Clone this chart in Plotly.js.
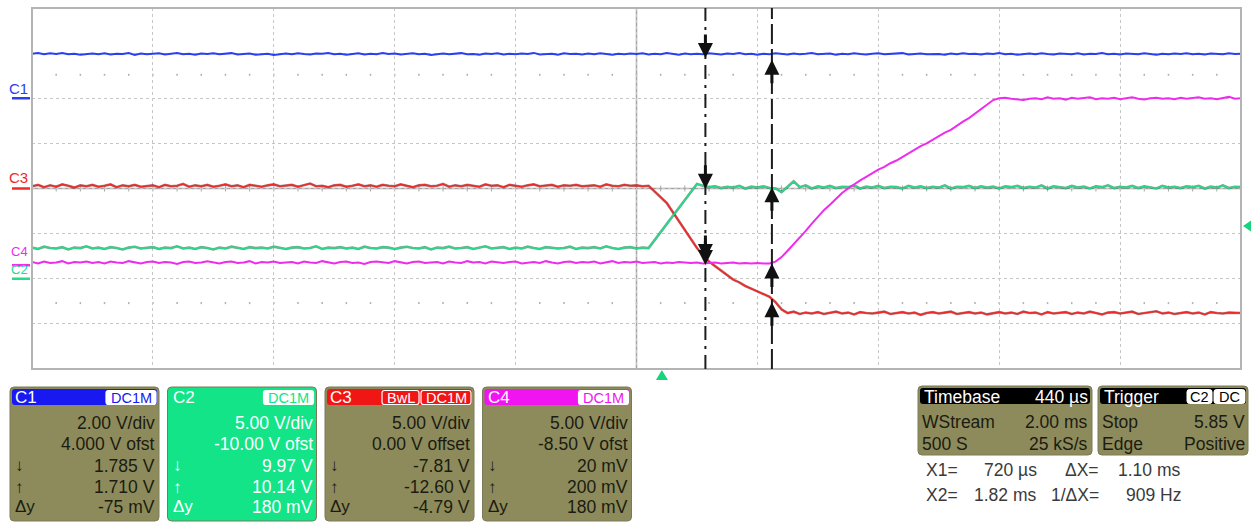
<!DOCTYPE html>
<html><head><meta charset="utf-8">
<script src="https://cdn.plot.ly/plotly-3.0.1.min.js"></script>
<style>html,body{margin:0;padding:0;background:#fff;}#chart{width:1252px;height:523px;}</style>
</head><body><div id="chart"></div>
<script>
// ================= DATA =================
// sample timing (ms): first sample and sample interval
const sampleStart = -10.42;
const sampleStep = 0.1;
// C1 (V)
const c1 = [
1.97,2.00,1.95,1.99,1.96,2.01,1.95,1.97,1.93,1.96,
1.98,1.95,1.99,1.94,1.97,1.96,2.00,1.92,1.98,1.95,
1.97,1.99,1.94,1.96,2.01,1.95,1.97,1.93,1.98,1.96,
1.99,1.95,1.97,2.00,1.94,1.96,1.98,1.93,1.95,1.97,
1.92,1.96,1.98,1.95,1.99,1.96,1.94,1.98,1.97,2.00,
1.95,1.97,1.93,1.96,1.99,1.94,1.97,1.95,2.00,1.96,
1.98,1.94,1.96,1.99,1.95,1.97,1.92,1.96,1.98,1.95,
1.97,2.00,1.95,1.96,1.93,1.98,1.96,1.99,1.94,1.97,
1.95,1.98,1.96,2.01,1.94,1.96,1.97,1.93,1.99,1.96,
1.97,1.94,1.98,1.95,1.99,1.96,1.93,1.97,1.95,1.98,
1.96,1.99,1.94,1.97,1.95,2.00,1.96,1.93,1.98,1.95,
1.97,1.95,1.99,1.96,1.94,1.98,1.96,2.00,1.95,1.97,
1.93,1.97,1.95,1.99,1.96,1.94,1.98,1.95,1.97,2.00,
1.95,1.96,1.98,1.93,1.97,1.95,1.99,1.96,1.94,1.97,
1.99,1.95,1.97,1.96,2.00,1.94,1.96,1.98,1.95,1.97,
1.96,1.93,1.98,1.95,1.99,1.96,1.97,1.94,1.98,1.96,
2.00,1.95,1.97,1.93,1.96,1.98,1.95,1.99,1.96,1.94,
1.98,1.96,1.95,1.99,1.94,1.97,1.96,2.00,1.95,1.97,
1.94,1.98,1.96,1.95,1.99,1.96,1.93,1.97,1.95,1.98,
1.96,1.99,1.95,1.97,1.94,1.98,1.96,1.95,1.99,1.96,
1.97];
// C2 (V)
const c2 = [
3.45,3.30,3.55,3.40,3.35,3.50,3.25,3.45,3.40,3.60,
3.35,3.45,3.30,3.50,3.40,3.25,3.45,3.55,3.35,3.40,
3.50,3.30,3.45,3.40,3.60,3.35,3.45,3.30,3.50,3.40,
3.25,3.45,3.35,3.55,3.40,3.30,3.50,3.40,3.45,3.35,
3.55,3.40,3.30,3.45,3.50,3.35,3.40,3.60,3.30,3.45,
3.40,3.50,3.35,3.45,3.30,3.55,3.40,3.35,3.50,3.45,
3.30,3.45,3.55,3.40,3.35,3.50,3.25,3.45,3.40,3.55,
3.35,3.40,3.50,3.30,3.45,3.60,3.35,3.40,3.50,3.30,
3.45,3.35,3.55,3.40,3.30,3.50,3.45,3.35,3.40,3.55,
3.30,3.45,3.40,3.50,3.35,3.60,3.40,3.30,3.45,3.50,
3.35,3.45,3.40,4.30,5.20,6.10,7.00,7.90,8.80,9.70,
10.50,10.30,10.15,10.25,10.05,10.20,10.10,10.30,10.00,10.20,
10.10,10.25,10.05,10.00,9.60,10.20,10.80,10.15,10.35,10.00,
10.25,10.10,10.30,10.05,10.20,10.15,10.35,10.00,10.20,10.10,
10.30,10.05,10.20,10.15,10.00,10.30,10.10,10.25,10.05,10.20,
10.10,10.35,10.00,10.20,10.15,10.30,10.05,10.25,10.10,10.20,
10.00,10.25,10.15,10.30,10.05,10.20,10.10,10.35,10.00,10.25,
10.15,10.05,10.30,10.10,10.20,10.00,10.25,10.15,10.35,10.05,
10.20,10.10,10.30,10.05,10.25,10.15,10.00,10.30,10.10,10.20,
10.05,10.25,10.15,10.30,10.00,10.20,10.10,10.35,10.05,10.20,
10.15];
// C3 (V)
const c3 = [
0.25,0.40,0.15,0.35,0.20,0.45,0.30,0.10,0.35,0.25,
0.40,0.20,0.30,0.45,0.15,0.35,0.25,0.40,0.20,0.30,
0.35,0.15,0.40,0.25,0.30,0.50,0.20,0.35,0.25,0.40,
0.20,0.30,0.45,0.25,0.35,0.15,0.40,0.30,0.20,0.35,
0.45,0.25,0.30,0.40,0.20,0.35,0.55,0.25,0.30,0.15,
0.35,0.40,0.20,0.30,0.45,0.25,0.35,0.20,0.40,0.30,
0.25,0.45,0.30,0.15,0.35,0.40,0.25,0.30,0.50,0.20,
0.35,0.25,0.40,0.30,0.20,0.45,0.30,0.35,0.15,0.40,
0.30,0.20,0.35,0.45,0.25,0.30,0.40,0.20,0.35,0.30,
0.40,0.25,0.30,0.35,0.20,0.45,0.30,0.25,0.40,0.30,
0.35,0.25,0.30,-0.30,-0.90,-1.60,-2.60,-3.60,-4.60,-5.60,
-6.60,-7.40,-8.10,-8.60,-9.10,-9.60,-10.10,-10.40,-10.80,-11.10,
-11.40,-11.70,-12.00,-12.60,-13.40,-13.80,-13.65,-13.90,-13.75,-13.85,
-13.70,-13.90,-13.80,-13.65,-13.85,-13.75,-13.95,-13.70,-13.80,-13.85,
-13.75,-13.65,-13.90,-13.80,-13.70,-13.85,-13.75,-14.00,-13.80,-13.70,
-13.85,-13.75,-13.65,-13.90,-13.80,-13.70,-13.85,-13.75,-13.95,-13.80,
-13.70,-13.85,-13.75,-13.90,-13.65,-13.80,-13.75,-13.95,-13.70,-13.85,
-13.80,-13.70,-13.90,-13.75,-13.85,-13.65,-13.80,-13.95,-13.75,-13.70,
-13.85,-13.75,-13.65,-13.90,-13.80,-13.70,-13.60,-13.85,-13.75,-13.90,
-13.80,-13.70,-13.85,-13.75,-13.95,-13.70,-13.80,-13.85,-13.75,-13.80,
-13.80];
// C4 (V)
const c4 = [
0.35,0.20,0.40,0.25,0.30,0.45,0.20,0.35,0.30,0.40,
0.25,0.35,0.20,0.40,0.30,0.25,0.45,0.30,0.20,0.35,
0.40,0.25,0.35,0.30,0.15,0.35,0.40,0.25,0.30,0.45,
0.30,0.20,0.35,0.40,0.25,0.30,0.45,0.20,0.35,0.30,
0.40,0.25,0.30,0.35,0.20,0.40,0.30,0.25,0.45,0.30,
0.20,0.35,0.40,0.25,0.30,0.15,0.35,0.40,0.30,0.25,
0.45,0.30,0.20,0.35,0.40,0.25,0.30,0.35,0.20,0.40,
0.30,0.25,0.45,0.30,0.35,0.20,0.40,0.30,0.25,0.35,
0.40,0.20,0.30,0.35,0.25,0.45,0.30,0.20,0.35,0.40,
0.25,0.35,0.30,0.40,0.20,0.30,0.45,0.25,0.35,0.30,
0.40,0.25,0.30,0.35,0.20,0.30,0.25,0.35,0.30,0.25,
0.30,0.20,0.25,0.30,0.20,0.25,0.30,0.20,0.25,0.20,
0.25,0.20,0.20,0.40,0.90,1.60,2.30,3.00,3.80,4.60,
5.40,6.10,6.70,7.40,8.00,8.50,9.00,9.40,9.80,10.20,
10.60,10.90,11.30,11.60,12.00,12.40,12.80,13.20,13.50,13.90,
14.30,14.70,15.00,15.50,15.90,16.30,16.80,17.30,17.80,18.30,
18.50,18.55,18.45,18.40,18.30,18.45,18.50,18.40,18.60,18.45,
18.50,18.35,18.55,18.45,18.50,18.60,18.40,18.50,18.45,18.55,
18.40,18.50,18.60,18.45,18.35,18.50,18.55,18.45,18.50,18.40,
18.55,18.45,18.50,18.60,18.45,18.50,18.40,18.55,18.65,18.45,
18.50];

// time window (ms) and cursors
const timeRange = [-10.42, 9.58];
const timePerDiv = 2.0;
const cursorX = [0.72, 1.82];
// cursor readouts per channel at [X1, X2] (V)
const c1Cur = [1.785, 1.710];
const c2Cur = [9.97, 10.14];
const c3Cur = [-7.81, -12.60];
const c4Cur = [0.020, 0.200];
// channel vertical settings
const chVdiv = [2.00, 5.00, 5.00, 5.00];
const chOffset = [4.000, -10.00, 0.00, -8.50];
// trigger
const trigTime = 0;
const trigLevel = 5.85;

// panel texts
const chNames = ['C1','C2','C3','C4'];
const chBadges = [['DC1M'],['DC1M'],['BwL','DC1M'],['DC1M']];
const chLines = [
  ['2.00 V/div','4.000 V ofst','1.785 V','1.710 V','-75 mV'],
  ['5.00 V/div','-10.00 V ofst','9.97 V','10.14 V','180 mV'],
  ['5.00 V/div','0.00 V offset','-7.81 V','-12.60 V','-4.79 V'],
  ['5.00 V/div','-8.50 V ofst','20 mV','200 mV','180 mV']
];
const rowSymbols = ['↓','↑','Δy'];
const tbHeader = ['Timebase','440 µs'];
const tbRows = [['WStream','2.00 ms'],['500 S','25 kS/s']];
const trHeader = 'Trigger';
const trBadges = ['C2','DC'];
const trRows = [['Stop','5.85 V'],['Edge','Positive']];
const curText = [['X1=','720 µs','ΔX=','1.10 ms'],['X2=','1.82 ms','1/ΔX=','909 Hz']];

// ================= STYLE =================
const FONT = 'Liberation Sans, Arial, sans-serif';
const traceCol = ['#2a3ef2','#22dc88','#f02828','#ee2cee'];
const underCol = [null,'rgba(40,80,60,0.55)','rgba(110,30,30,0.55)',null];
const headCol = ['#1818f0','#12e487','#f01616','#f014f0'];
const OLIVE = '#8d8b5b';
const L=32, R=1241, T=8, B=369;
const px = x => (x-L)/(R-L);
const py = y => (B-y)/(B-T);

function rr(x0,y0,x1,y1,r,fill,lineCol,lw){
  const p = `M${x0+r},${-y0} L${x1-r},${-y0} Q${x1},${-y0} ${x1},${-(y0+r)} L${x1},${-(y1-r)} Q${x1},${-y1} ${x1-r},${-y1} L${x0+r},${-y1} Q${x0},${-y1} ${x0},${-(y1-r)} L${x0},${-(y0+r)} Q${x0},${-y0} ${x0+r},${-y0} Z`;
  return {type:'path',xref:'paper',yref:'paper',xsizemode:'pixel',ysizemode:'pixel',
    xanchor:px(0),yanchor:py(0),path:p,fillcolor:fill,
    line:{color:lineCol||fill,width:lw===undefined?0:lw},layer:'above'};
}
function txt(x,y,s,anchor,color,size,bold){
  return {xref:'paper',yref:'paper',x:px(x),y:py(y),text:bold?'<b>'+s+'</b>':s,showarrow:false,
    xanchor:anchor,yanchor:'middle',borderpad:0,font:{family:FONT,size:size||17,color:color}};
}

// ================= TRACES =================
const yaxes = ['y2','y3','y','y4'];
const series = [c1,c2,c3,c4];
const traces = [];
const order = [1,2,3,0];
order.forEach(i=>{
  if(underCol[i]){
    traces.push({type:'scatter',mode:'lines',x0:sampleStart,dx:sampleStep,y:series[i],yaxis:yaxes[i],
      line:{color:underCol[i],width:2.6},hoverinfo:'skip',showlegend:false});
  }
  traces.push({type:'scatter',mode:'lines',x0:sampleStart,dx:sampleStep,y:series[i],yaxis:yaxes[i],
    line:{color:traceCol[i],width:underCol[i]?1.6:2},hoverinfo:'skip',showlegend:false});
});

// ================= SHAPES / ANNOTATIONS =================
const shapes = [];
const ann = [];
// centre cross
const tCenter = timeRange[0] + 5*timePerDiv;
shapes.push({type:'line',xref:'x',yref:'paper',x0:tCenter,x1:tCenter,y0:0,y1:1,line:{color:'#a4a4a4',width:1.5},layer:'below'});
shapes.push({type:'line',xref:'paper',yref:'y',x0:0,x1:1,y0:0,y1:0,line:{color:'#a4a4a4',width:1.5},layer:'below'});
// tick marks (every 1/5 division)
for(let k=1;k<50;k++){
  const tx = timeRange[0] + k*timePerDiv/5;
  shapes.push({type:'line',xref:'x',yref:'y',ysizemode:'pixel',yanchor:0,x0:tx,x1:tx,y0:-3,y1:3,line:{color:'#a8a8a8',width:1},layer:'below'});
  [12.6,-12.7].forEach(v=>{
    shapes.push({type:'line',xref:'x',yref:'y',ysizemode:'pixel',yanchor:v,x0:tx,x1:tx,y0:-1,y1:1,line:{color:'#b0b0b0',width:1.5},layer:'below'});
  });
}
// frame
shapes.push({type:'rect',xref:'paper',yref:'paper',x0:0,x1:1,y0:0,y1:1,line:{color:'#b4b4b4',width:2},layer:'above'});
// cursors
shapes.push({type:'line',xref:'x',yref:'paper',x0:cursorX[0],x1:cursorX[0],y0:0,y1:1,line:{color:'#1c1c1c',width:2,dash:'14px,6px,3px,6px'}});
shapes.push({type:'line',xref:'x',yref:'paper',x0:cursorX[1],x1:cursorX[1],y0:0,y1:1,line:{color:'#1c1c1c',width:2,dash:'20px,5px'}});
// trigger markers
shapes.push({type:'path',xref:'x',yref:'paper',xsizemode:'pixel',ysizemode:'pixel',xanchor:trigTime,yanchor:0,
  path:'M0,-1 L-6,-11 L6,-11 Z',fillcolor:'#18d47c',line:{width:0}});
shapes.push({type:'path',xref:'paper',yref:'y3',xsizemode:'pixel',ysizemode:'pixel',xanchor:1,yanchor:trigLevel,
  path:'M2,0 L10,5.5 L10,-5.5 Z',fillcolor:'#18d47c',line:{width:0}});
// channel ground markers
const gShift = [10,9,11,14];
const gSize = [15,13,15,13];
[0,2,3,1].forEach(i=>{
  shapes.push({type:'line',xref:'paper',yref:yaxes[i],x0:px(12),x1:px(30),y0:0,y1:0,line:{color:traceCol[i],width:2.5}});
  ann.push({xref:'paper',yref:yaxes[i],x:px(29),y:0,yshift:gShift[i],xanchor:'right',yanchor:'middle',showarrow:false,
    text:chNames[i],borderpad:0,font:{family:FONT,size:gSize[i],color:traceCol[i]}});
});
// cursor arrows
const curVals = [c1Cur,c2Cur,c3Cur,c4Cur];
curVals.forEach((cv,i)=>{
  cv.forEach((v,j)=>{
    ann.push({xref:'x',yref:yaxes[i],x:cursorX[j],y:v,ax:0,ay:j===0?-25:25,text:'',showarrow:true,
      arrowhead:2,arrowsize:1.0,arrowwidth:3,arrowcolor:'#111',standoff:0});
  });
});

// channel info boxes
chNames.forEach((nm,i)=>{
  const x0 = 10 + i*157.5, x1 = x0+149;
  const bodyFill = i===1 ? headCol[1] : OLIVE;
  shapes.push(rr(x0,387,x1,521,4,bodyFill,'#7b7a58',1));
  shapes.push(rr(x0+2,389,x1-2,405,3,headCol[i]));
  ann.push(txt(x0+4,397.5,nm,'left','#ffffff',17));
  // badges
  let bx = x1-3;
  const bl = chBadges[i].slice().reverse();
  bl.forEach(b=>{
    const w = b==='DC1M'?50:37;
    const outline = (i===2);
    shapes.push(rr(bx-w,390.5,bx,404.5,2.5,outline?headCol[i]:'#ffffff','#ffffff',1.2));
    ann.push(txt(bx-w/2,397.5,b,'center',outline?'#ffffff':headCol[i],14.5));
    bx -= w+2;
  });
  const tc = i===1 ? '#ffffff' : '#1b1b12';
  const ys = [423,444,466,487,507];
  chLines[i].forEach((s,k)=>{ ann.push(txt(x1-3,ys[k],s,'right',tc,17.5)); });
  rowSymbols.forEach((s,k)=>{ ann.push(txt(x0+4,ys[k+2],s,'left',tc,17)); });
});

// timebase box
shapes.push(rr(918,386,1092,455,4,OLIVE,'#7b7a58',1));
shapes.push(rr(920,388,1090,404,3,'#000000'));
ann.push(txt(923,396.5,tbHeader[0],'left','#ffffff',17.5));
ann.push(txt(1089,396.5,tbHeader[1],'right','#ffffff',17.5));
tbRows.forEach((r,k)=>{
  ann.push(txt(921,422+k*22,r[0],'left','#1b1b12',17.5));
  ann.push(txt(1089,422+k*22,r[1],'right','#1b1b12',17.5));
});
// trigger box
shapes.push(rr(1098,386,1248,455,4,OLIVE,'#7b7a58',1));
shapes.push(rr(1100,388,1246,404,3,'#000000'));
ann.push(txt(1103,396.5,trHeader,'left','#ffffff',17.5));
shapes.push(rr(1187,389.5,1212,403.5,2.5,'#ffffff','#ffffff',1));
shapes.push(rr(1214,389.5,1245,403.5,2.5,'#ffffff','#ffffff',1));
ann.push(txt(1199.5,396.5,trBadges[0],'center','#000000',14.5));
ann.push(txt(1229.5,396.5,trBadges[1],'center','#000000',14.5));
trRows.forEach((r,k)=>{
  ann.push(txt(1101,422+k*22,r[0],'left','#1b1b12',17.5));
  ann.push(txt(1246,422+k*22,r[1],'right','#1b1b12',17.5));
});
// cursor readout texts
curText.forEach((r,k)=>{
  const y = 470 + k*25;
  ann.push(txt(925,y,r[0],'left','#3a3a3a',17.5));
  ann.push(txt(1038,y,r[1],'right','#3a3a3a',17.5));
  ann.push(txt(1100,y,r[2],'right','#3a3a3a',17.5));
  ann.push(txt(1182,y,r[3],'right','#3a3a3a',17.5));
});

// ================= AXES =================
const rng = i => [-chOffset[i]-4*chVdiv[i], -chOffset[i]+4*chVdiv[i]];
const layout = {
  width:1252,height:523,
  margin:{l:L,r:1252-R,t:T,b:523-B,pad:0},
  paper_bgcolor:'#ffffff',plot_bgcolor:'#ffffff',
  showlegend:false,hovermode:false,
  xaxis:{range:timeRange,tick0:timeRange[0],dtick:timePerDiv,showgrid:true,gridcolor:'#c6c6c6',griddash:'dot',gridwidth:1,
    zeroline:false,showticklabels:false,ticks:'',showline:false,fixedrange:true},
  yaxis:{range:rng(2),tick0:0,dtick:chVdiv[2],showgrid:true,gridcolor:'#c6c6c6',griddash:'dot',gridwidth:1,
    zeroline:false,showticklabels:false,ticks:'',showline:false,fixedrange:true},
  yaxis2:{overlaying:'y',range:rng(0),visible:false,fixedrange:true},
  yaxis3:{overlaying:'y',range:rng(1),visible:false,fixedrange:true},
  yaxis4:{overlaying:'y',range:rng(3),visible:false,fixedrange:true},
  shapes:shapes,annotations:ann
};
Plotly.newPlot('chart',traces,layout,{staticPlot:true,displayModeBar:false});
</script></body></html>
